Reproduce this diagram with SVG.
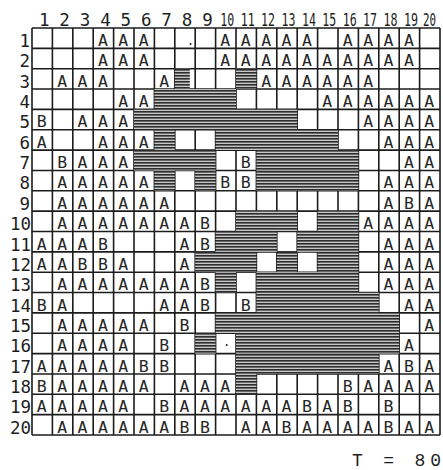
<svg xmlns="http://www.w3.org/2000/svg" width="443" height="470" viewBox="0 0 443 470">
<defs>
<pattern id="hatch" width="4" height="3" patternUnits="userSpaceOnUse">
<rect width="4" height="3" fill="#c6c6c6"/>
<rect width="4" height="1" fill="#2e2e2e"/>
<rect y="1" width="4" height="1" fill="#676767"/>
</pattern>
<style>
.g{fill:none;stroke:#1c1c1c;stroke-width:1.6}
.s{fill:url(#hatch)}
.c{font-family:"DejaVu Sans Mono","Liberation Mono",monospace;font-size:16.5px;fill:#262626;text-anchor:middle}
.r{font-family:"DejaVu Sans Mono","Liberation Mono",monospace;font-size:17.5px;fill:#1e1e1e;text-anchor:end}
.h{font-family:"DejaVu Sans Mono","Liberation Mono",monospace;font-size:17.5px;fill:#1e1e1e;text-anchor:middle}
.t{font-family:"Liberation Mono",monospace;font-size:18px;fill:#1e1e1e}
</style>
</defs>
<rect width="443" height="470" fill="#ffffff"/>
<g id="grid">
<path class="g" d="M32 28V435M52.4 28V435M72.8 28V435M93.2 28V435M113.6 28V435M134 28V435M154.4 28V435M174.8 28V435M195.2 28V435M215.6 28V435M236 28V435M256.4 28V435M276.8 28V435M297.2 28V435M317.6 28V435M338 28V435M358.4 28V435M378.8 28V435M399.2 28V435M419.6 28V435M440 28V435"/>
<path class="g" d="M32 28H440M32 48.35H440M32 68.7H440M32 89.05H440M32 109.4H440M32 129.75H440M32 150.1H440M32 170.45H440M32 190.8H440M32 211.15H440M32 231.5H440M32 251.85H440M32 272.2H440M32 292.55H440M32 312.9H440M32 333.25H440M32 353.6H440M32 373.95H440M32 394.3H440M32 414.65H440M32 435H440"/>
</g>
<g id="shading">
<rect class="s" x="174.8" y="68.7" width="15" height="20.35"/>
<rect class="s" x="236" y="68.7" width="20.4" height="20.35"/>
<rect class="s" x="154.4" y="89.05" width="81.6" height="20.35"/>
<rect class="s" x="134" y="109.4" width="163.2" height="20.35"/>
<rect class="s" x="154.4" y="129.75" width="20.4" height="20.35"/>
<rect class="s" x="215.6" y="129.75" width="122.4" height="20.35"/>
<rect class="s" x="134" y="150.1" width="81.6" height="20.35"/>
<rect class="s" x="256.4" y="150.1" width="102" height="20.35"/>
<rect class="s" x="154.4" y="170.45" width="20.4" height="20.35"/>
<rect class="s" x="195.2" y="170.45" width="20.4" height="20.35"/>
<rect class="s" x="256.4" y="170.45" width="102" height="20.35"/>
<rect class="s" x="236" y="211.15" width="61.2" height="20.35"/>
<rect class="s" x="317.6" y="211.15" width="40.8" height="20.35"/>
<rect class="s" x="215.6" y="231.5" width="61.2" height="20.35"/>
<rect class="s" x="297.2" y="231.5" width="61.2" height="20.35"/>
<rect class="s" x="195.2" y="251.85" width="61.2" height="20.35"/>
<rect class="s" x="276.8" y="251.85" width="20.4" height="20.35"/>
<rect class="s" x="317.6" y="251.85" width="40.8" height="20.35"/>
<rect class="s" x="215.6" y="272.2" width="20.4" height="20.35"/>
<rect class="s" x="256.4" y="272.2" width="102" height="20.35"/>
<rect class="s" x="256.4" y="292.55" width="122.4" height="20.35"/>
<rect class="s" x="215.6" y="312.9" width="183.6" height="20.35"/>
<rect class="s" x="195.2" y="333.25" width="20.4" height="20.35"/>
<rect class="s" x="236" y="333.25" width="163.2" height="20.35"/>
<rect class="s" x="236" y="353.6" width="142.8" height="20.35"/>
<rect class="s" x="236" y="373.95" width="20.4" height="20.35"/>
<circle cx="226.7" cy="345" r="1" fill="#1e1e1e"/>
<circle cx="190.5" cy="44" r="1" fill="#1e1e1e"/>
</g>
<g id="col-headers">
<text class="h" x="44.2" y="26">1</text>
<text class="h" x="64.6" y="26">2</text>
<text class="h" x="85" y="26">3</text>
<text class="h" x="105.4" y="26">4</text>
<text class="h" x="125.8" y="26">5</text>
<text class="h" x="146.2" y="26">6</text>
<text class="h" x="166.6" y="26">7</text>
<text class="h" x="187" y="26">8</text>
<text class="h" x="207.4" y="26">9</text>
<text class="h" x="227.3" y="26" textLength="14" lengthAdjust="spacingAndGlyphs">10</text>
<text class="h" x="247.7" y="26" textLength="14" lengthAdjust="spacingAndGlyphs">11</text>
<text class="h" x="268.1" y="26" textLength="14" lengthAdjust="spacingAndGlyphs">12</text>
<text class="h" x="288.5" y="26" textLength="14" lengthAdjust="spacingAndGlyphs">13</text>
<text class="h" x="308.9" y="26" textLength="14" lengthAdjust="spacingAndGlyphs">14</text>
<text class="h" x="329.3" y="26" textLength="14" lengthAdjust="spacingAndGlyphs">15</text>
<text class="h" x="349.7" y="26" textLength="14" lengthAdjust="spacingAndGlyphs">16</text>
<text class="h" x="370.1" y="26" textLength="14" lengthAdjust="spacingAndGlyphs">17</text>
<text class="h" x="390.5" y="26" textLength="14" lengthAdjust="spacingAndGlyphs">18</text>
<text class="h" x="410.9" y="26" textLength="14" lengthAdjust="spacingAndGlyphs">19</text>
<text class="h" x="429.6" y="26" textLength="13" lengthAdjust="spacingAndGlyphs">20</text>
</g>
<g id="row-headers">
<text class="r" x="30" y="47">1</text>
<text class="r" x="30" y="67.35">2</text>
<text class="r" x="30" y="87.7">3</text>
<text class="r" x="30" y="108.05">4</text>
<text class="r" x="30" y="128.4">5</text>
<text class="r" x="30" y="148.75">6</text>
<text class="r" x="30" y="169.1">7</text>
<text class="r" x="30" y="189.45">8</text>
<text class="r" x="30" y="209.8">9</text>
<text class="r" x="31" y="230.15">10</text>
<text class="r" x="31" y="250.5">11</text>
<text class="r" x="31" y="270.85">12</text>
<text class="r" x="31" y="291.2">13</text>
<text class="r" x="31" y="311.55">14</text>
<text class="r" x="31" y="331.9">15</text>
<text class="r" x="31" y="352.25">16</text>
<text class="r" x="31" y="372.6">17</text>
<text class="r" x="31" y="392.95">18</text>
<text class="r" x="31" y="413.3">19</text>
<text class="r" x="31" y="433.65">20</text>
</g>
<g id="cells">
<g id="row1" transform="translate(-0.5 28)"><text class="c" x="103.4" y="18">A</text><text class="c" x="123.8" y="18">A</text><text class="c" x="144.2" y="18">A</text><text class="c" x="225.8" y="18">A</text><text class="c" x="246.2" y="18">A</text><text class="c" x="266.6" y="18">A</text><text class="c" x="287" y="18">A</text><text class="c" x="307.4" y="18">A</text><text class="c" x="348.2" y="18">A</text><text class="c" x="368.6" y="18">A</text><text class="c" x="389" y="18">A</text><text class="c" x="409.4" y="18">A</text></g>
<g id="row2" transform="translate(-0.5 48.35)"><text class="c" x="103.4" y="18">A</text><text class="c" x="123.8" y="18">A</text><text class="c" x="144.2" y="18">A</text><text class="c" x="225.8" y="18">A</text><text class="c" x="246.2" y="18">A</text><text class="c" x="266.6" y="18">A</text><text class="c" x="287" y="18">A</text><text class="c" x="307.4" y="18">A</text><text class="c" x="327.8" y="18">A</text><text class="c" x="348.2" y="18">A</text><text class="c" x="368.6" y="18">A</text><text class="c" x="389" y="18">A</text><text class="c" x="409.4" y="18">A</text></g>
<g id="row3" transform="translate(-0.5 68.7)"><text class="c" x="62.6" y="18">A</text><text class="c" x="83" y="18">A</text><text class="c" x="103.4" y="18">A</text><text class="c" x="164.6" y="18">A</text><text class="c" x="266.6" y="18">A</text><text class="c" x="287" y="18">A</text><text class="c" x="307.4" y="18">A</text><text class="c" x="327.8" y="18">A</text><text class="c" x="348.2" y="18">A</text><text class="c" x="368.6" y="18">A</text></g>
<g id="row4" transform="translate(-0.5 89.05)"><text class="c" x="123.8" y="18">A</text><text class="c" x="144.2" y="18">A</text><text class="c" x="327.8" y="18">A</text><text class="c" x="348.2" y="18">A</text><text class="c" x="368.6" y="18">A</text><text class="c" x="389" y="18">A</text><text class="c" x="409.4" y="18">A</text><text class="c" x="429.8" y="18">A</text></g>
<g id="row5" transform="translate(-0.5 109.4)"><text class="c" x="42.2" y="18">B</text><text class="c" x="83" y="18">A</text><text class="c" x="103.4" y="18">A</text><text class="c" x="123.8" y="18">A</text><text class="c" x="368.6" y="18">A</text><text class="c" x="389" y="18">A</text><text class="c" x="409.4" y="18">A</text><text class="c" x="429.8" y="18">A</text></g>
<g id="row6" transform="translate(-0.5 129.75)"><text class="c" x="42.2" y="18">A</text><text class="c" x="103.4" y="18">A</text><text class="c" x="123.8" y="18">A</text><text class="c" x="144.2" y="18">A</text><text class="c" x="389" y="18">A</text><text class="c" x="409.4" y="18">A</text><text class="c" x="429.8" y="18">A</text></g>
<g id="row7" transform="translate(-0.5 150.1)"><text class="c" x="62.6" y="18">B</text><text class="c" x="83" y="18">A</text><text class="c" x="103.4" y="18">A</text><text class="c" x="123.8" y="18">A</text><text class="c" x="246.2" y="18">B</text><text class="c" x="409.4" y="18">A</text><text class="c" x="429.8" y="18">A</text></g>
<g id="row8" transform="translate(-0.5 170.45)"><text class="c" x="62.6" y="18">A</text><text class="c" x="83" y="18">A</text><text class="c" x="103.4" y="18">A</text><text class="c" x="123.8" y="18">A</text><text class="c" x="144.2" y="18">A</text><text class="c" x="225.8" y="18">B</text><text class="c" x="246.2" y="18">B</text><text class="c" x="389" y="18">A</text><text class="c" x="409.4" y="18">A</text><text class="c" x="429.8" y="18">A</text></g>
<g id="row9" transform="translate(-0.5 190.8)"><text class="c" x="62.6" y="18">A</text><text class="c" x="83" y="18">A</text><text class="c" x="103.4" y="18">A</text><text class="c" x="123.8" y="18">A</text><text class="c" x="144.2" y="18">A</text><text class="c" x="164.6" y="18">A</text><text class="c" x="389" y="18">A</text><text class="c" x="409.4" y="18">B</text><text class="c" x="429.8" y="18">A</text></g>
<g id="row10" transform="translate(-0.5 211.15)"><text class="c" x="62.6" y="18">A</text><text class="c" x="83" y="18">A</text><text class="c" x="103.4" y="18">A</text><text class="c" x="123.8" y="18">A</text><text class="c" x="144.2" y="18">A</text><text class="c" x="164.6" y="18">A</text><text class="c" x="185" y="18">A</text><text class="c" x="205.4" y="18">B</text><text class="c" x="368.6" y="18">A</text><text class="c" x="389" y="18">A</text><text class="c" x="409.4" y="18">A</text><text class="c" x="429.8" y="18">A</text></g>
<g id="row11" transform="translate(-0.5 231.5)"><text class="c" x="42.2" y="18">A</text><text class="c" x="62.6" y="18">A</text><text class="c" x="83" y="18">A</text><text class="c" x="103.4" y="18">B</text><text class="c" x="185" y="18">A</text><text class="c" x="205.4" y="18">B</text><text class="c" x="389" y="18">A</text><text class="c" x="409.4" y="18">A</text><text class="c" x="429.8" y="18">A</text></g>
<g id="row12" transform="translate(-0.5 251.85)"><text class="c" x="42.2" y="18">A</text><text class="c" x="62.6" y="18">A</text><text class="c" x="83" y="18">B</text><text class="c" x="103.4" y="18">B</text><text class="c" x="123.8" y="18">A</text><text class="c" x="185" y="18">A</text><text class="c" x="389" y="18">A</text><text class="c" x="409.4" y="18">A</text><text class="c" x="429.8" y="18">A</text></g>
<g id="row13" transform="translate(-0.5 272.2)"><text class="c" x="62.6" y="18">A</text><text class="c" x="83" y="18">A</text><text class="c" x="103.4" y="18">A</text><text class="c" x="123.8" y="18">A</text><text class="c" x="144.2" y="18">A</text><text class="c" x="164.6" y="18">A</text><text class="c" x="185" y="18">A</text><text class="c" x="205.4" y="18">B</text><text class="c" x="389" y="18">A</text><text class="c" x="409.4" y="18">A</text><text class="c" x="429.8" y="18">A</text></g>
<g id="row14" transform="translate(-0.5 292.55)"><text class="c" x="42.2" y="18">B</text><text class="c" x="62.6" y="18">A</text><text class="c" x="164.6" y="18">A</text><text class="c" x="185" y="18">A</text><text class="c" x="205.4" y="18">B</text><text class="c" x="246.2" y="18">B</text><text class="c" x="409.4" y="18">A</text><text class="c" x="429.8" y="18">A</text></g>
<g id="row15" transform="translate(-0.5 312.9)"><text class="c" x="62.6" y="18">A</text><text class="c" x="83" y="18">A</text><text class="c" x="103.4" y="18">A</text><text class="c" x="123.8" y="18">A</text><text class="c" x="144.2" y="18">A</text><text class="c" x="185" y="18">B</text><text class="c" x="429.8" y="18">A</text></g>
<g id="row16" transform="translate(-0.5 333.25)"><text class="c" x="62.6" y="18">A</text><text class="c" x="83" y="18">A</text><text class="c" x="103.4" y="18">A</text><text class="c" x="123.8" y="18">A</text><text class="c" x="164.6" y="18">B</text><text class="c" x="409.4" y="18">A</text></g>
<g id="row17" transform="translate(-0.5 353.6)"><text class="c" x="42.2" y="18">A</text><text class="c" x="62.6" y="18">A</text><text class="c" x="83" y="18">A</text><text class="c" x="103.4" y="18">A</text><text class="c" x="123.8" y="18">A</text><text class="c" x="144.2" y="18">B</text><text class="c" x="164.6" y="18">B</text><text class="c" x="389" y="18">A</text><text class="c" x="409.4" y="18">B</text><text class="c" x="429.8" y="18">A</text></g>
<g id="row18" transform="translate(-0.5 373.95)"><text class="c" x="42.2" y="18">B</text><text class="c" x="62.6" y="18">A</text><text class="c" x="83" y="18">A</text><text class="c" x="103.4" y="18">A</text><text class="c" x="123.8" y="18">A</text><text class="c" x="144.2" y="18">A</text><text class="c" x="185" y="18">A</text><text class="c" x="205.4" y="18">A</text><text class="c" x="225.8" y="18">A</text><text class="c" x="348.2" y="18">B</text><text class="c" x="368.6" y="18">A</text><text class="c" x="389" y="18">A</text><text class="c" x="409.4" y="18">A</text><text class="c" x="429.8" y="18">A</text></g>
<g id="row19" transform="translate(-0.5 394.3)"><text class="c" x="42.2" y="18">A</text><text class="c" x="62.6" y="18">A</text><text class="c" x="83" y="18">A</text><text class="c" x="103.4" y="18">A</text><text class="c" x="123.8" y="18">A</text><text class="c" x="164.6" y="18">B</text><text class="c" x="185" y="18">A</text><text class="c" x="205.4" y="18">A</text><text class="c" x="225.8" y="18">A</text><text class="c" x="246.2" y="18">A</text><text class="c" x="266.6" y="18">A</text><text class="c" x="287" y="18">A</text><text class="c" x="307.4" y="18">B</text><text class="c" x="327.8" y="18">A</text><text class="c" x="348.2" y="18">B</text><text class="c" x="389" y="18">B</text></g>
<g id="row20" transform="translate(-0.5 414.65)"><text class="c" x="62.6" y="18">A</text><text class="c" x="83" y="18">A</text><text class="c" x="103.4" y="18">A</text><text class="c" x="123.8" y="18">A</text><text class="c" x="144.2" y="18">A</text><text class="c" x="164.6" y="18">A</text><text class="c" x="185" y="18">B</text><text class="c" x="205.4" y="18">B</text><text class="c" x="246.2" y="18">A</text><text class="c" x="266.6" y="18">A</text><text class="c" x="287" y="18">B</text><text class="c" x="307.4" y="18">A</text><text class="c" x="327.8" y="18">A</text><text class="c" x="348.2" y="18">A</text><text class="c" x="368.6" y="18">A</text><text class="c" x="389" y="18">B</text><text class="c" x="409.4" y="18">A</text><text class="c" x="429.8" y="18">A</text></g>
</g>
<text id="caption" class="t" x="352" y="466" textLength="89" lengthAdjust="spacing">T = 80</text>
</svg>
